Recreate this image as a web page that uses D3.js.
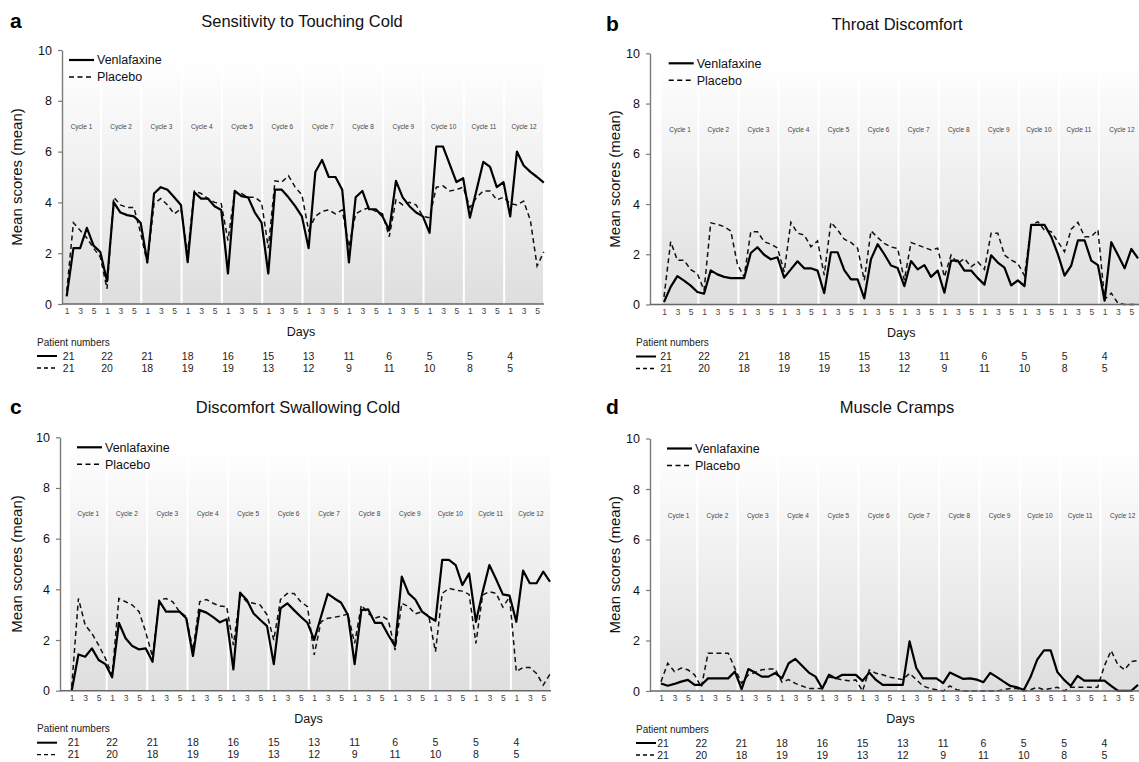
<!DOCTYPE html>
<html>
<head>
<meta charset="utf-8">
<script src="https://cdn.jsdelivr.net/npm/d3@7"></script>
<style>
  body { margin: 0; background: #fff; }
  svg { display: block; font-family: "Liberation Sans", Arial, sans-serif; }
</style>
</head>
<body>
<svg id="chart" width="1139" height="762"></svg>
<script>
// ── Data ──────────────────────────────────────────────────────────────────────

const cycleLabels = d3.range(1, 13).map((k) => `Cycle ${k}`);
const dayLabels = ["1", "", "3", "", "5", ""]; // repeated for every cycle
const seriesNames = ["Venlafaxine", "Placebo"];

// 12 cycles x 6 days, mean scores
const venTouch = [
  0.3, 2.2, 2.2, 3.0, 2.3, 2.05,
  0.9, 4.0, 3.6, 3.5, 3.45, 3.2,
  1.65, 4.35, 4.6, 4.5, 4.2, 3.9,
  1.65, 4.4, 4.15, 4.15, 3.85, 3.7,
  1.2, 4.45, 4.25, 4.2, 3.6, 3.2,
  1.2, 4.5, 4.5, 4.2, 3.85, 3.45,
  2.2, 5.2, 5.67, 5.0, 5.0, 4.5,
  1.64, 4.2, 4.45, 3.73, 3.73, 3.45,
  2.9, 4.85, 4.2, 3.85, 3.6, 3.45,
  2.8, 6.2, 6.2, 5.5, 4.8, 4.95,
  3.4, 4.5, 5.6, 5.4, 4.6, 4.8,
  3.45, 6.0, 5.45, 5.2, 5.0, 4.78
];
const plaTouch = [
  0.5, 3.2, 2.9, 2.6, 2.2, 1.85,
  0.6, 4.2, 3.9, 3.8, 3.8, 2.8,
  1.6, 3.95, 4.15, 3.9, 3.55, 3.75,
  2.0, 4.45, 4.35, 4.15, 4.0, 3.95,
  2.5, 4.4, 4.35, 4.2, 4.2, 4.0,
  2.2, 4.85, 4.8, 5.05, 4.6, 4.3,
  2.9, 3.45, 3.65, 3.7, 3.55, 3.7,
  2.25, 3.55, 3.7, 3.8, 3.65, 3.55,
  2.65, 4.1, 3.9, 4.0, 3.9, 3.45,
  3.4, 4.6, 4.65, 4.45, 4.5, 4.6,
  3.8, 4.2, 4.45, 4.45, 4.1, 4.2,
  3.95, 3.9, 4.05, 3.3, 1.5, 2.05
];

const venThroat = [
  0.1, 0.7, 1.13, 0.95, 0.75, 0.5,
  0.43, 1.36, 1.2, 1.1, 1.05, 1.05,
  1.05, 2.05, 2.28, 1.98, 1.8, 1.88,
  1.07, 1.4, 1.72, 1.44, 1.44, 1.35,
  0.45, 2.08, 2.08, 1.37, 1.0, 1.0,
  0.24, 1.8, 2.4, 2.0, 1.55, 1.45,
  0.73, 1.73, 1.4, 1.57, 1.1, 1.35,
  0.47, 1.75, 1.75, 1.35, 1.35, 1.05,
  0.79, 1.96, 1.67, 1.47, 0.76, 0.96,
  0.73, 3.17, 3.17, 3.17, 2.7, 2.0,
  1.15, 1.55, 2.55, 2.55, 1.75, 1.57,
  0.15, 2.48, 1.97, 1.44, 2.21, 1.84
];
const plaThroat = [
  0.3, 2.5, 1.76, 1.76, 1.39, 1.23,
  0.56, 3.25, 3.19, 3.1, 2.93, 1.6,
  1.1, 2.9, 2.9, 2.5, 2.4, 2.25,
  1.3, 3.27, 2.84, 2.77, 2.3, 2.53,
  1.17, 3.27, 2.97, 2.6, 2.47, 2.24,
  0.96, 2.93, 2.67, 2.43, 2.29, 2.23,
  0.97, 2.47, 2.37, 2.27, 2.17, 2.24,
  1.1, 1.97, 1.63, 1.83, 1.5, 1.7,
  1.4, 2.84, 2.84, 1.97, 1.77, 1.63,
  1.15, 3.15, 3.3, 2.95, 2.9, 2.5,
  2.1, 3.0, 3.27, 2.7, 2.7, 2.97,
  0.2, 0.45, 0.05, 0, 0, 0
];

const venSwallow = [
  0, 1.43, 1.34, 1.67, 1.21, 1.05,
  0.53, 2.68, 2.07, 1.76, 1.63, 1.67,
  1.14, 3.54, 3.12, 3.12, 3.12, 2.86,
  1.37, 3.18, 3.08, 2.9, 2.7, 2.82,
  0.84, 3.87, 3.58, 3.05, 2.79, 2.55,
  1.05, 3.25, 3.45, 3.18, 2.92, 2.68,
  2.0, 2.92, 3.82, 3.64, 3.47, 2.99,
  1.05, 3.18, 3.21, 2.68, 2.68, 2.2,
  1.76, 4.5, 3.84, 3.6, 3.12, 2.92,
  2.76, 5.16, 5.16, 4.96, 4.17, 4.63,
  2.72, 3.9, 4.96, 4.4, 3.8, 3.75,
  2.72, 4.74, 4.24, 4.24, 4.7, 4.3
];
const plaSwallow = [
  0.15, 3.64, 2.59, 2.26, 1.8, 1.28,
  0.62, 3.64, 3.51, 3.38, 3.12, 2.3,
  1.34, 3.58, 3.64, 3.51, 3.12, 2.92,
  1.6, 3.51, 3.6, 3.45, 3.34, 3.32,
  1.8, 3.78, 3.51, 3.45, 3.38, 2.99,
  2.0, 3.6, 3.84, 3.84, 3.51, 3.32,
  1.41, 2.72, 2.86, 2.9, 2.95, 3.03,
  1.87, 3.38, 3.05, 2.86, 2.95, 2.79,
  1.6, 3.45, 3.32, 3.03, 3.12, 2.95,
  1.54, 3.84, 4.04, 3.97, 3.93, 3.8,
  1.87, 3.78, 3.91, 3.84, 3.3, 3.7,
  0.75, 0.92, 0.92, 0.68, 0.22, 0.65
];

const venCramps = [
  0.3, 0.21, 0.28, 0.37, 0.44, 0.24,
  0.24, 0.5, 0.5, 0.5, 0.5, 0.77,
  0.07, 0.87, 0.73, 0.57, 0.57, 0.71,
  0.5, 1.1, 1.27, 1.0, 0.73, 0.57,
  0.1, 0.64, 0.5, 0.64, 0.64, 0.64,
  0.4, 0.73, 0.44, 0.24, 0.24, 0.24,
  0.24, 1.97, 0.91, 0.5, 0.5, 0.5,
  0.31, 0.73, 0.6, 0.48, 0.5, 0.45,
  0.35, 0.72, 0.55, 0.37, 0.2, 0.15,
  0.04, 0.55, 1.24, 1.61, 1.61, 0.75,
  0.44, 0.2, 0.6, 0.41, 0.41, 0.41,
  0.41, 0.2, 0.01, 0.01, 0.01, 0.24
];
const plaCramps = [
  0.37, 1.1, 0.77, 0.91, 0.84, 0.64,
  0.15, 1.5, 1.5, 1.5, 1.5, 0.9,
  0.31, 0.64, 0.73, 0.84, 0.87, 0.87,
  0.35, 0.45, 0.3, 0.2, 0.1, 0.1,
  0.1, 0.55, 0.5, 0.44, 0.41, 0.44,
  0.0, 0.84, 0.7, 0.64, 0.55, 0.5,
  0.45, 0.7, 0.45, 0.2, 0.1, 0.05,
  0.0, 0.2, 0.05, 0.0, 0.0, 0.0,
  0.0, 0.0, 0.0, 0.05, 0.1, 0.1,
  0.0, 0.05, 0.15, 0.05, 0.1, 0.15,
  0.0, 0.15, 0.15, 0.15, 0.15, 0.15,
  1.0, 1.6, 1.04, 0.84, 1.17, 1.21
];

// patients per cycle
const patientsVen = [21, 22, 21, 18, 16, 15, 13, 11, 6, 5, 5, 4];
const patientsVenThroat = [21, 22, 21, 18, 15, 15, 13, 11, 6, 5, 5, 4];
const patientsPla = [21, 20, 18, 19, 19, 13, 12, 9, 11, 10, 8, 5];

// ── Layout ────────────────────────────────────────────────────────────────────

const panels = [
  { letter: "a", title: "Sensitivity to Touching Cold", ven: venTouch, pla: plaTouch, nVen: patientsVen,
    axisX: 62, yTop: 50, yBot: 304, xFirst: 66.7, xLast: 543.8, bandL: 62, bandR: 544, sepFrac: 0.1,
    titleX: 302, titleY: 27, letterX: 10, yTitleX: 17, pnX: 37 },
  { letter: "b", title: "Throat Discomfort", ven: venThroat, pla: plaThroat, nVen: patientsVenThroat,
    axisX: 650, yTop: 53.3, yBot: 304.5, xFirst: 664, xLast: 1138, bandL: 661.7, bandR: 1145, sepFrac: 0.15,
    titleX: 897, titleY: 30, letterX: 606, yTitleX: 615, pnX: 636 },
  { letter: "c", title: "Discomfort Swallowing Cold", ven: venSwallow, pla: plaSwallow, nVen: patientsVen,
    axisX: 60, yTop: 437.3, yBot: 690.7, xFirst: 71.7, xLast: 550, bandL: 70, bandR: 551, sepFrac: 0.2,
    titleX: 298, titleY: 413, letterX: 10, yTitleX: 17, pnX: 37 },
  { letter: "d", title: "Muscle Cramps", ven: venCramps, pla: plaCramps, nVen: patientsVen,
    axisX: 650, yTop: 438.5, yBot: 691, xFirst: 661, xLast: 1138, bandL: 660, bandR: 1145, sepFrac: 0.4,
    titleX: 897, titleY: 413, letterX: 606, yTitleX: 615, pnX: 636 }
];

const svg = d3.select("#chart");

const grad = svg.append("defs").append("linearGradient")
  .attr("id", "bandGrad")
  .attr("x1", 0).attr("y1", 0).attr("x2", 0).attr("y2", 1);
grad.append("stop").attr("offset", "0%").attr("stop-color", "#ffffff");
grad.append("stop").attr("offset", "100%").attr("stop-color", "#dedede");

const DASH = "5,3.5";

function drawPanel(p) {
  const g = svg.append("g");
  const x = d3.scaleLinear().domain([0, 71]).range([p.xFirst, p.xLast]);
  const y = d3.scaleLinear().domain([0, 10]).range([p.yBot, p.yTop]);

  // cycle bands with white separators
  const edges = [p.bandL, ...d3.range(1, 12).map((k) => x(6 * k - 1 + p.sepFrac)), p.bandR];
  const bands = cycleLabels.map((label, k) => ({ label, x0: edges[k], x1: edges[k + 1] }));

  g.selectAll("rect.band")
    .data(bands)
    .join("rect")
    .attr("class", "band")
    .attr("x", (d, k) => d.x0 + (k === 0 ? 0 : 1))
    .attr("width", (d, k) => d.x1 - d.x0 - (k === 0 ? 1 : 2))
    .attr("y", y(9.7))
    .attr("height", y(0) - y(9.7))
    .attr("fill", "url(#bandGrad)");

  g.selectAll("text.cycle")
    .data(bands)
    .join("text")
    .attr("class", "cycle")
    .attr("x", (d) => (d.x0 + d.x1) / 2)
    .attr("y", p.yTop + 79)
    .attr("text-anchor", "middle")
    .attr("font-size", 6.5)
    .attr("fill", "#444")
    .text((d) => d.label);

  // lines
  const line = d3.line().x((d, i) => x(i)).y((d) => y(d));

  g.append("path")
    .datum(p.pla)
    .attr("d", line)
    .attr("fill", "none")
    .attr("stroke", "#111")
    .attr("stroke-width", 1.5)
    .attr("stroke-dasharray", DASH);

  g.append("path")
    .datum(p.ven)
    .attr("d", line)
    .attr("fill", "none")
    .attr("stroke", "#000")
    .attr("stroke-width", 2.2)
    .attr("stroke-linejoin", "round");

  // y axis
  const yAxis = g.append("g")
    .attr("transform", `translate(${p.axisX},0)`)
    .call(d3.axisLeft(y).tickValues([0, 2, 4, 6, 8, 10]).tickSize(4).tickSizeOuter(0).tickPadding(6));
  yAxis.select(".domain").attr("stroke", "#7a7a7a").attr("stroke-width", 1.4);
  yAxis.selectAll(".tick line").attr("stroke", "#7a7a7a").attr("stroke-width", 1.2);
  yAxis.selectAll(".tick text")
    .attr("font-size", 12.5)
    .attr("font-family", "Liberation Sans, Arial, sans-serif")
    .attr("fill", "#111");

  // x axis
  g.append("line")
    .attr("x1", p.axisX).attr("x2", p.bandR)
    .attr("y1", p.yBot).attr("y2", p.yBot)
    .attr("stroke", "#666")
    .attr("stroke-width", 1.5);

  const tickIdx = d3.range(72).filter((i) => dayLabels[i % 6] !== "");
  const xAxis = g.append("g")
    .attr("transform", `translate(0,${p.yBot + 1})`)
    .call(d3.axisBottom(x).tickValues(tickIdx).tickFormat((i) => dayLabels[i % 6]).tickSize(0).tickPadding(3));
  xAxis.select(".domain").remove();
  xAxis.selectAll(".tick text")
    .attr("font-size", 8.5)
    .attr("font-family", "Liberation Sans, Arial, sans-serif")
    .attr("fill", "#444");

  // titles
  g.append("text")
    .attr("x", p.letterX).attr("y", p.titleY + 1)
    .attr("font-size", 21).attr("font-weight", "bold")
    .attr("fill", "#000")
    .text(p.letter);

  g.append("text")
    .attr("x", p.titleX).attr("y", p.titleY)
    .attr("text-anchor", "middle")
    .attr("font-size", 16.5)
    .attr("fill", "#111")
    .text(p.title);

  g.append("text")
    .attr("transform", `translate(${p.yTitleX},${(p.yTop + p.yBot) / 2}) rotate(-90)`)
    .attr("text-anchor", "middle")
    .attr("dy", "0.35em")
    .attr("font-size", 15)
    .attr("fill", "#111")
    .text("Mean scores (mean)");

  g.append("text")
    .attr("x", (p.bandL + p.bandR) / 2 - 2).attr("y", p.yBot + 32)
    .attr("text-anchor", "middle")
    .attr("font-size", 12.5)
    .attr("fill", "#111")
    .text("Days");

  // legend
  const leg = g.append("g").attr("transform", `translate(${p.bandL + 7},${p.yTop + 10})`);
  seriesNames.forEach((name, i) => {
    leg.append("line")
      .attr("x1", 0).attr("x2", 25)
      .attr("y1", i * 17).attr("y2", i * 17)
      .attr("stroke", "#000")
      .attr("stroke-width", i === 0 ? 2.2 : 1.5)
      .attr("stroke-dasharray", i === 0 ? null : DASH);
    leg.append("text")
      .attr("x", 28).attr("y", i * 17)
      .attr("dy", "0.35em")
      .attr("font-size", 12.5)
      .attr("fill", "#111")
      .text(name);
  });

  // patient numbers table
  const pn = g.append("g");
  pn.append("text")
    .attr("x", p.pnX).attr("y", p.yBot + 38)
    .attr("dy", "0.35em")
    .attr("font-size", 10)
    .attr("fill", "#222")
    .text("Patient numbers");

  [p.nVen, patientsPla].forEach((row, r) => {
    const yy = p.yBot + 52 + r * 12;
    pn.append("line")
      .attr("x1", p.pnX).attr("x2", p.pnX + 20)
      .attr("y1", yy).attr("y2", yy)
      .attr("stroke", "#000")
      .attr("stroke-width", r === 0 ? 2 : 1.3)
      .attr("stroke-dasharray", r === 0 ? null : "4,3");
    pn.selectAll(null)
      .data(row)
      .join("text")
      .attr("x", (d, k) => x(6 * k) + (k === 0 ? 2 : 0))
      .attr("y", yy)
      .attr("dy", "0.35em")
      .attr("text-anchor", "middle")
      .attr("font-size", 10.5)
      .attr("fill", "#222")
      .text((d) => d);
  });
}

panels.forEach(drawPanel);
</script>
</body>
</html>
